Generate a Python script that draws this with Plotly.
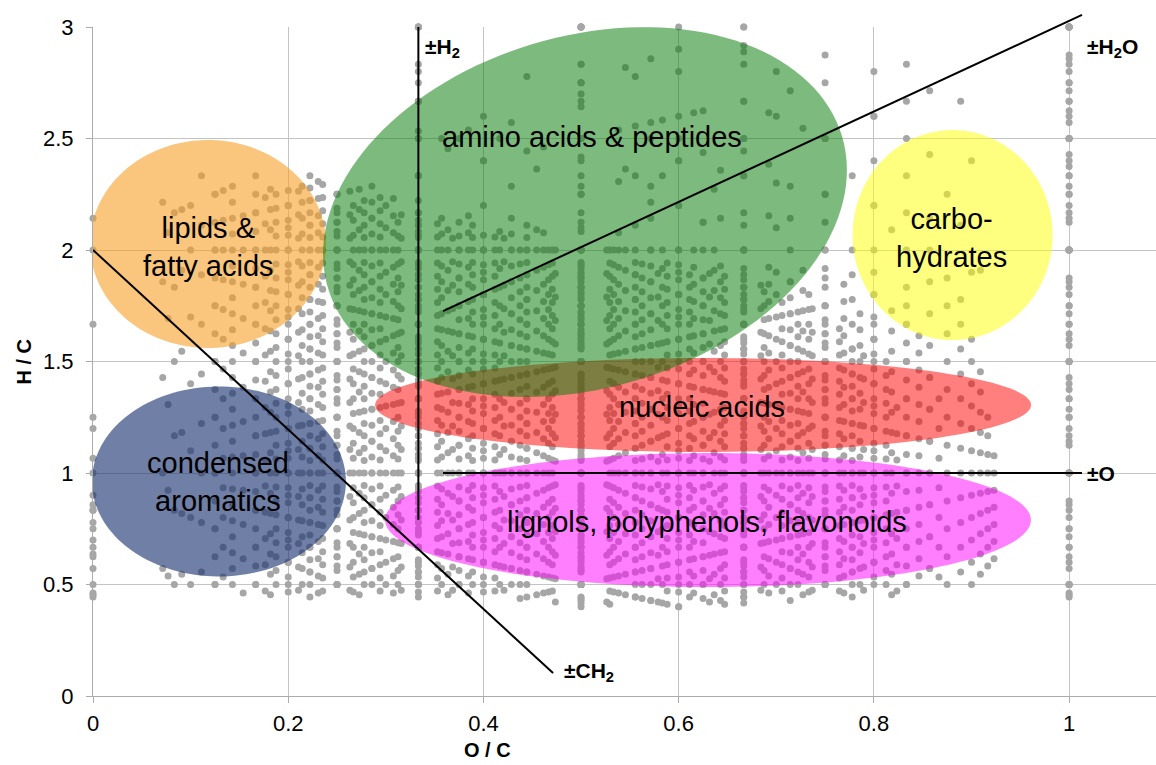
import numpy as np
import plotly.graph_objects as go

# Molecular formulas CcHhOo, grouped by carbon count c:
#   {oxygen count o: [hydrogen counts h]}
c02 = {1: [1, 2, 3, 4, 5, 6], 2: [1, 2, 3, 4, 5, 6]}
c03 = {0: [5], 1: [2, 3, 4, 5, 6, 7, 8, 9], 2: [2, 3, 4, 5, 6, 7, 8, 9], 3: [2, 3, 4, 5, 6, 7, 8, 9]}
c04 = {1: [2, 3, 4, 5, 6, 7, 8, 9], 2: [2, 3, 4, 5, 6, 7, 8, 9, 10, 11, 12],
       3: [2, 3, 4, 5, 6, 7, 8, 9, 10, 11], 4: [2, 3, 4, 5, 6, 7, 8, 9, 10, 11, 12]}
c05 = {1: [3, 4, 5, 6, 7, 8, 9, 10, 11], 2: [3, 4, 5, 6, 7, 8, 9, 10, 11, 12, 13],
       3: [2, 3, 4, 5, 6, 7, 8, 9, 10, 11, 12, 13, 14, 15], 4: [3, 4, 5, 6, 7, 8, 9, 10, 11, 12, 13, 14],
       5: [3, 4, 5, 6, 7, 8, 9, 10, 11, 12, 13, 14, 15]}
c06 = {0: [3, 4, 5, 12], 1: [3, 4, 5, 6, 7, 8, 9, 10, 11, 12, 13, 14],
       2: [3, 4, 5, 6, 7, 8, 9, 10, 11, 12, 13, 14, 15, 16, 17, 18],
       3: [3, 4, 5, 6, 7, 8, 9, 10, 11, 12, 13, 14, 15, 16, 17, 18],
       4: [3, 4, 5, 6, 7, 8, 9, 10, 11, 12, 13, 14, 15, 16, 17, 18],
       5: [3, 4, 5, 6, 7, 8, 9, 10, 11, 12, 13, 14, 15, 16, 17],
       6: [3, 4, 5, 6, 7, 8, 9, 10, 11, 12, 13, 14, 15, 16, 17, 18]}
c07 = {0: [4, 6, 7, 15], 1: [4, 5, 6, 7, 8, 9, 10, 11, 12, 13, 14, 15, 16],
       2: [4, 5, 6, 7, 8, 9, 10, 11, 12, 13, 14, 15, 16],
       3: [4, 5, 6, 7, 8, 9, 10, 11, 12, 13, 14, 15, 16, 18],
       4: [3, 4, 5, 6, 7, 8, 9, 10, 11, 12, 13, 14, 15, 16, 18, 20],
       5: [3, 4, 5, 6, 7, 8, 9, 10, 11, 12, 13, 14, 15, 16, 19],
       6: [4, 5, 6, 7, 8, 9, 10, 11, 12, 13, 14, 15, 17, 19],
       7: [4, 5, 6, 7, 8, 9, 10, 11, 12, 13, 14, 15, 16, 17, 18, 19, 20, 21]}
c08 = {0: [5, 6], 1: [4, 6, 8, 10, 12, 14, 16, 18],
       2: [4, 5, 6, 7, 8, 9, 10, 11, 12, 13, 14, 15, 16, 17, 18],
       3: [4, 5, 6, 7, 8, 9, 10, 11, 12, 13, 14, 15, 16, 17, 20],
       4: [4, 5, 6, 7, 8, 9, 10, 11, 12, 13, 14, 15, 16, 17, 18, 20, 22, 24],
       5: [4, 5, 6, 7, 8, 9, 10, 11, 12, 13, 14, 15, 16, 17, 21],
       6: [4, 5, 6, 7, 8, 9, 10, 11, 12, 13, 14, 15, 16, 17, 20, 23],
       7: [4, 5, 6, 7, 8, 9, 10, 11, 12, 13, 14, 15, 18],
       8: [4, 5, 6, 7, 8, 9, 10, 11, 12, 13, 14, 15, 16, 17, 18, 19, 20, 21, 22, 23, 24]}
c09 = {0: [4, 7], 1: [5, 7, 9, 11, 13, 15, 17, 19, 21],
       2: [4, 5, 6, 7, 8, 9, 10, 11, 12, 13, 14, 15, 16, 17, 18, 19, 20, 21],
       3: [4, 5, 6, 7, 8, 9, 10, 11, 12, 13, 14, 15, 16, 17, 18, 19, 20, 21, 24, 27],
       4: [4, 5, 6, 7, 8, 9, 10, 11, 12, 13, 14, 15, 16, 17, 18, 19, 22, 25],
       5: [4, 5, 6, 7, 8, 9, 10, 11, 12, 13, 14, 15, 16, 17, 18, 19, 21, 23, 25],
       6: [4, 5, 6, 7, 8, 9, 10, 11, 12, 13, 14, 15, 16, 17, 18, 19, 22, 26],
       7: [4, 5, 6, 7, 8, 9, 10, 11, 12, 13, 14, 15, 16, 17, 18, 21],
       8: [5, 6, 7, 8, 9, 10, 11, 12, 13, 14, 15, 16, 19, 24],
       9: [4]}
c10 = {0: [7, 9, 12], 1: [5, 8, 11, 14, 17, 20, 22],
       2: [5, 6, 7, 8, 9, 10, 11, 12, 13, 14, 15, 16, 17, 18, 19, 20, 21, 22],
       3: [5, 6, 7, 8, 9, 10, 11, 12, 13, 14, 15, 16, 17, 18, 19, 20, 21, 22],
       4: [5, 6, 7, 8, 9, 10, 11, 12, 13, 14, 15, 16, 17, 18, 19, 20, 24],
       5: [4, 5, 6, 7, 8, 9, 10, 11, 12, 13, 14, 15, 16, 17, 18, 19, 20, 21, 24, 27, 30],
       6: [4, 5, 6, 7, 8, 9, 10, 11, 12, 13, 14, 15, 16, 17, 18, 19, 20, 22, 25, 29],
       7: [5, 6, 7, 8, 9, 10, 11, 12, 13, 14, 15, 16, 17, 18, 19, 21, 23, 26, 28],
       8: [5, 6, 7, 8, 9, 10, 11, 12, 13, 14, 15, 16, 17, 18, 19, 22, 26],
       9: [5, 6, 7, 8, 9, 10, 11, 12, 13, 14, 15, 16, 19, 24]}
c11 = {0: [5, 7], 1: [6, 9, 13, 17, 21, 24],
       2: [5, 6, 7, 8, 9, 10, 11, 12, 13, 14, 15, 16, 17, 18, 19, 20, 21, 22, 23, 24, 25],
       3: [5, 6, 7, 8, 9, 10, 11, 12, 13, 14, 15, 16, 17, 18, 19, 20, 21, 22, 23, 24, 25],
       4: [5, 6, 7, 8, 9, 10, 11, 12, 13, 14, 15, 16, 17, 18, 19, 20, 21, 22, 23, 27],
       5: [5, 6, 7, 8, 9, 10, 11, 12, 13, 14, 15, 16, 17, 18, 19, 20, 21, 22, 23, 26],
       6: [5, 6, 7, 8, 9, 10, 11, 12, 13, 14, 15, 16, 17, 18, 19, 20, 21, 22, 26, 31],
       7: [5, 6, 7, 8, 9, 10, 11, 12, 13, 14, 15, 16, 17, 18, 19, 20, 21, 22, 25],
       8: [5, 6, 7, 8, 9, 10, 11, 12, 13, 14, 15, 16, 17, 18, 19, 20, 21, 28],
       9: [5, 6, 7, 8, 9, 10, 11, 12, 13, 14, 15, 16, 17, 18, 19, 23],
       10: [6, 7, 8, 9, 10, 11, 12, 13, 14, 15, 16, 21],
       11: [5]}
c12 = {0: [10, 15], 1: [6, 10, 14, 18, 22, 26],
       2: [6, 7, 8, 9, 10, 11, 12, 13, 14, 15, 16, 17, 18, 19, 20, 21, 22, 23, 24, 25, 26, 27],
       3: [6, 7, 8, 9, 10, 11, 12, 13, 14, 15, 16, 17, 18, 19, 20, 21, 22, 23, 24, 25, 26, 27],
       4: [6, 7, 8, 9, 10, 11, 12, 13, 14, 15, 16, 17, 18, 19, 20, 21, 22, 23, 24, 25, 26, 30, 33, 36],
       5: [6, 7, 8, 9, 10, 11, 12, 13, 14, 15, 16, 17, 18, 19, 20, 21, 22, 23, 24, 25, 30],
       6: [5, 6, 7, 8, 9, 10, 11, 12, 13, 14, 15, 16, 17, 18, 19, 20, 21, 22, 23, 24, 25, 29, 34],
       7: [5, 6, 7, 8, 9, 10, 11, 12, 13, 14, 15, 16, 17, 18, 19, 20, 21, 22, 23, 24, 28, 31],
       8: [5, 6, 7, 8, 9, 10, 11, 12, 13, 14, 15, 16, 17, 18, 19, 20, 21, 22, 23, 24, 30, 35],
       9: [6, 7, 8, 9, 10, 11, 12, 13, 14, 15, 16, 17, 18, 19, 20, 21, 22, 23, 27, 30],
       10: [6, 7, 8, 9, 10, 11, 12, 13, 14, 15, 16, 17, 18, 19, 20, 21],
       11: [7, 8, 9, 10, 11, 12, 13, 14, 15]}
c13 = {0: [6], 1: [7, 12, 17, 22, 27],
       2: [6, 8, 10, 12, 14, 16, 18, 20, 22, 24, 26, 28],
       3: [6, 7, 8, 9, 10, 11, 12, 13, 14, 15, 16, 17, 18, 19, 20, 21, 22, 23, 24, 25, 26, 27, 28, 29, 30],
       4: [6, 7, 8, 9, 10, 11, 12, 13, 14, 15, 16, 17, 18, 19, 20, 21, 22, 23, 24, 25, 26, 27, 28, 29],
       5: [6, 7, 8, 9, 10, 11, 12, 13, 14, 15, 16, 17, 18, 19, 20, 21, 22, 23, 24, 25, 26, 27, 28, 33],
       6: [6, 7, 8, 9, 10, 11, 12, 13, 14, 15, 16, 17, 18, 19, 20, 21, 22, 23, 24, 25, 26, 27, 32],
       7: [6, 7, 8, 9, 10, 11, 12, 13, 14, 15, 16, 17, 18, 19, 20, 21, 22, 23, 24, 25, 26, 27, 30, 33],
       8: [6, 7, 8, 9, 10, 11, 12, 13, 14, 15, 16, 17, 18, 19, 20, 21, 22, 23, 24, 25, 26, 34],
       9: [6, 7, 8, 9, 10, 11, 12, 13, 14, 15, 16, 17, 18, 19, 20, 21, 22, 23, 24, 25, 28, 31, 34],
       10: [6, 7, 8, 9, 10, 11, 12, 13, 14, 15, 16, 17, 18, 19, 20, 21, 22, 23, 24],
       11: [7, 8, 9, 10, 11, 12, 13, 14, 15, 16, 17, 18, 19, 20, 21],
       12: [8, 9, 10, 11, 12, 13, 14],
       13: [6]}
c14 = {1: [8, 14, 20, 26, 31],
       2: [7, 9, 11, 13, 15, 17, 19, 21, 23, 25, 27, 29, 31],
       3: [7, 8, 9, 10, 11, 12, 13, 14, 15, 16, 17, 18, 19, 20, 21, 22, 23, 24, 25, 26, 27, 28, 29, 30, 31, 32],
       4: [7, 8, 9, 10, 11, 12, 13, 14, 15, 16, 17, 18, 19, 20, 21, 22, 23, 24, 25, 26, 27, 28, 29, 30, 31],
       5: [7, 8, 9, 10, 11, 12, 13, 14, 15, 16, 17, 18, 19, 20, 21, 22, 23, 24, 25, 26, 27, 28, 29, 30, 35],
       6: [7, 8, 9, 10, 11, 12, 13, 14, 15, 16, 17, 18, 19, 20, 21, 22, 23, 24, 25, 26, 27, 28, 29],
       7: [6, 7, 8, 9, 10, 11, 12, 13, 14, 15, 16, 17, 18, 19, 20, 21, 22, 23, 24, 25, 26, 27, 28, 32, 37],
       8: [6, 7, 8, 9, 10, 11, 12, 13, 14, 15, 16, 17, 18, 19, 20, 21, 22, 23, 24, 25, 26, 27, 28, 31, 35],
       9: [6, 7, 8, 9, 10, 11, 12, 13, 14, 15, 16, 17, 18, 19, 20, 21, 22, 23, 24, 25, 26, 27, 30, 33],
       10: [7, 8, 9, 10, 11, 12, 13, 14, 15, 16, 17, 18, 19, 20, 21, 22, 23, 24, 25, 26],
       11: [7, 8, 9, 10, 11, 12, 13, 14, 15, 16, 17, 18, 19, 20, 21, 22, 23, 24],
       12: [8, 10, 12, 14, 16, 18, 20]}
c15 = {0: [16],
       2: [8, 10, 12, 14, 16, 18, 20, 22, 24, 26, 28, 30, 32, 34],
       3: [7, 8, 9, 10, 11, 12, 13, 14, 15, 16, 17, 18, 19, 20, 21, 22, 23, 24, 25, 26, 27, 28, 29, 30, 31, 32, 33, 34],
       4: [7, 8, 9, 10, 11, 12, 13, 14, 15, 16, 17, 18, 19, 20, 21, 22, 23, 24, 25, 26, 27, 28, 29, 30, 31, 32, 33],
       5: [7, 8, 9, 10, 11, 12, 13, 14, 15, 16, 17, 18, 19, 20, 21, 22, 23, 24, 25, 26, 27, 28, 29, 30, 31, 32, 38, 42],
       6: [7, 8, 9, 10, 11, 12, 13, 14, 15, 16, 17, 18, 19, 20, 21, 22, 23, 24, 25, 26, 27, 28, 29, 30, 31],
       7: [7, 8, 9, 10, 11, 12, 13, 14, 15, 16, 17, 18, 19, 20, 21, 22, 23, 24, 25, 26, 27, 28, 29, 30],
       8: [7, 8, 9, 10, 11, 12, 13, 14, 15, 16, 17, 18, 19, 20, 21, 22, 23, 24, 25, 26, 27, 28, 29, 30],
       9: [7, 8, 9, 10, 11, 12, 13, 14, 15, 16, 17, 18, 19, 20, 21, 22, 23, 24, 25, 26, 27, 28, 29, 36],
       10: [7, 8, 9, 10, 11, 12, 13, 14, 15, 16, 17, 18, 19, 20, 21, 22, 23, 24, 25, 26, 27, 28],
       11: [7, 8, 9, 10, 11, 12, 13, 14, 15, 16, 17, 18, 19, 20, 21, 22, 23, 24, 25, 26, 27],
       12: [8, 9, 10, 11, 12, 13, 14, 15, 16, 17, 18, 19, 20, 21, 22, 23, 24, 25],
       13: [8, 10, 12, 14, 16, 18, 20]}
c16 = {2: [8, 10, 12, 14, 16, 18, 20, 22, 24, 26, 28, 30, 32, 34, 36],
       3: [8, 9, 10, 11, 12, 13, 14, 15, 16, 17, 18, 19, 20, 21, 22, 23, 24, 25, 26, 27, 28, 29, 30, 31, 32, 33, 34, 35, 36],
       4: [8, 9, 10, 11, 12, 13, 14, 15, 16, 17, 18, 19, 20, 21, 22, 23, 24, 25, 26, 27, 28, 29, 30, 31, 32, 33, 34, 35],
       5: [8, 9, 10, 11, 12, 13, 14, 15, 16, 17, 18, 19, 20, 21, 22, 23, 24, 25, 26, 27, 28, 29, 30, 31, 32, 33, 34],
       6: [8, 9, 10, 11, 12, 13, 14, 15, 16, 17, 18, 19, 20, 21, 22, 23, 24, 25, 26, 27, 28, 29, 30, 31, 32, 33],
       7: [7, 8, 9, 10, 11, 12, 13, 14, 15, 16, 17, 18, 19, 20, 21, 22, 23, 24, 25, 26, 27, 28, 29, 30, 31, 32],
       8: [7, 8, 9, 10, 11, 12, 13, 14, 15, 16, 17, 18, 19, 20, 21, 22, 23, 24, 25, 26, 27, 28, 29, 30, 31, 32, 36, 40, 44],
       9: [7, 8, 9, 10, 11, 12, 13, 14, 15, 16, 17, 18, 19, 20, 21, 22, 23, 24, 25, 26, 27, 28, 29, 30, 31],
       10: [7, 8, 9, 10, 11, 12, 13, 14, 15, 16, 17, 18, 19, 20, 21, 22, 23, 24, 25, 26, 27, 28, 29, 30, 34, 39],
       11: [8, 9, 10, 11, 12, 13, 14, 15, 16, 17, 18, 19, 20, 21, 22, 23, 24, 25, 26, 27, 28, 29],
       12: [8, 9, 10, 11, 12, 13, 14, 15, 16, 17, 18, 19, 20, 21, 22, 23, 24, 25, 26, 27],
       13: [8, 9, 10, 11, 12, 13, 14, 15, 16, 17, 18, 19, 20, 21, 22, 23, 24]}
c17 = {3: [8, 10, 12, 14, 16, 18, 20, 22, 24, 26, 28, 30, 32, 34, 36, 38],
       4: [8, 9, 10, 11, 12, 13, 14, 15, 16, 17, 18, 19, 20, 21, 22, 23, 24, 25, 26, 27, 28, 29, 30, 31, 32, 33, 34, 35, 36, 37, 38, 39],
       5: [8, 9, 10, 11, 12, 13, 14, 15, 16, 17, 18, 19, 20, 21, 22, 23, 24, 25, 26, 27, 28, 29, 30, 31, 32, 33, 34, 35, 36, 37, 38],
       6: [8, 9, 10, 11, 12, 13, 14, 15, 16, 17, 18, 19, 20, 21, 22, 23, 24, 25, 26, 27, 28, 29, 30, 31, 32, 33, 34, 35, 36],
       7: [8, 9, 10, 11, 12, 13, 14, 15, 16, 17, 18, 19, 20, 21, 22, 23, 24, 25, 26, 27, 28, 29, 30, 31, 32, 33, 34, 35],
       8: [8, 9, 10, 11, 12, 13, 14, 15, 16, 17, 18, 19, 20, 21, 22, 23, 24, 25, 26, 27, 28, 29, 30, 31, 32, 33, 34],
       9: [7, 8, 9, 10, 11, 12, 13, 14, 15, 16, 17, 18, 19, 20, 21, 22, 23, 24, 25, 26, 27, 28, 29, 30, 31, 32, 33, 34],
       10: [7, 8, 9, 10, 11, 12, 13, 14, 15, 16, 17, 18, 19, 20, 21, 22, 23, 24, 25, 26, 27, 28, 29, 30, 31, 32, 33],
       11: [7, 8, 9, 10, 11, 12, 13, 14, 15, 16, 17, 18, 19, 20, 21, 22, 23, 24, 25, 26, 27, 28, 29, 30, 31, 32],
       12: [8, 9, 10, 11, 12, 13, 14, 15, 16, 17, 18, 19, 20, 21, 22, 23, 24, 25, 26, 27, 28, 29, 30],
       13: [8, 9, 10, 11, 12, 13, 14, 15, 16, 17, 18, 19, 20, 21, 22, 23, 24, 25, 26, 27, 28],
       14: [8, 10, 12, 14, 16, 18, 20, 22]}
c18 = {4: [9, 10, 11, 12, 13, 14, 15, 16, 17, 18, 19, 20, 21, 22, 23, 24, 25, 26, 27, 28, 29, 30, 31, 32, 33, 34, 35, 36, 37, 38, 39, 40, 41],
       5: [9, 10, 11, 12, 13, 14, 15, 16, 17, 18, 19, 20, 21, 22, 23, 24, 25, 26, 27, 28, 29, 30, 31, 32, 33, 34, 35, 36, 37, 38, 39, 40],
       6: [9, 10, 11, 12, 13, 14, 15, 16, 17, 18, 19, 20, 21, 22, 23, 24, 25, 26, 27, 28, 29, 30, 31, 32, 33, 34, 35, 36, 37, 38, 39],
       7: [9, 10, 11, 12, 13, 14, 15, 16, 17, 18, 19, 20, 21, 22, 23, 24, 25, 26, 27, 28, 29, 30, 31, 32, 33, 34, 35, 36, 37, 38],
       8: [9, 10, 11, 12, 13, 14, 15, 16, 17, 18, 19, 20, 21, 22, 23, 24, 25, 26, 27, 28, 29, 30, 31, 32, 33, 34, 35, 36, 37],
       9: [8, 9, 10, 11, 12, 13, 14, 15, 16, 17, 18, 19, 20, 21, 22, 23, 24, 25, 26, 27, 28, 29, 30, 31, 32, 33, 34, 35, 36],
       10: [8, 9, 10, 11, 12, 13, 14, 15, 16, 17, 18, 19, 20, 21, 22, 23, 24, 25, 26, 27, 28, 29, 30, 31, 32, 33, 34, 35],
       11: [8, 9, 10, 11, 12, 13, 14, 15, 16, 17, 18, 19, 20, 21, 22, 23, 24, 25, 26, 27, 28, 29, 30, 31, 32, 33, 34],
       12: [8, 9, 10, 11, 12, 13, 14, 15, 16, 17, 18, 19, 20, 21, 22, 23, 24, 25, 26, 27, 28, 29, 30, 31, 32, 33],
       13: [9, 10, 11, 12, 13, 14, 15, 16, 17, 18, 19, 20, 21, 22, 23, 24, 25, 26, 27, 28, 29, 30, 31],
       14: [9, 10, 11, 12, 13, 14, 15, 16, 17, 18, 19, 20, 21, 22, 23, 24, 25, 26, 27, 28]}
c19 = {4: [9, 11, 13, 15, 17, 19, 21, 23, 25, 27, 29, 31, 33, 35, 37, 39, 41, 43],
       5: [9, 11, 13, 15, 17, 19, 21, 23, 25, 27, 29, 31, 33, 35, 37, 39, 41, 43],
       6: [9, 11, 13, 15, 17, 19, 21, 23, 25, 27, 29, 31, 33, 35, 37, 39, 41],
       7: [9, 11, 13, 15, 17, 19, 21, 23, 25, 27, 29, 31, 33, 35, 37, 39],
       8: [9, 11, 13, 15, 17, 19, 21, 23, 25, 27, 29, 31, 33, 35, 37, 39],
       9: [8, 10, 12, 14, 16, 18, 20, 22, 24, 26, 28, 30, 32, 34, 36, 38],
       10: [8, 10, 12, 14, 16, 18, 20, 22, 24, 26, 28, 30, 32, 34, 36, 38],
       11: [8, 10, 12, 14, 16, 18, 20, 22, 24, 26, 28, 30, 32, 34, 36],
       12: [8, 10, 12, 14, 16, 18, 20, 22, 24, 26, 28, 30, 32, 34, 36],
       13: [9, 11, 13, 15, 17, 19, 21, 23, 25, 27, 29, 31, 33, 35],
       14: [9, 11, 13, 15, 17, 19, 21, 23, 25, 27, 29, 31, 33],
       15: [9, 11, 13, 15, 17, 19, 21, 23, 25, 27, 29]}

formula_tables = {2: c02, 3: c03, 4: c04, 5: c05, 6: c06, 7: c07, 8: c08, 9: c09, 10: c10,
                  11: c11, 12: c12, 13: c13, 14: c14, 15: c15, 16: c16, 17: c17, 18: c18, 19: c19}

# Elemental ratios for the Van Krevelen plot
oc_ratio, hc_ratio = [], []
for n_c, table in formula_tables.items():
    for n_o, h_counts in table.items():
        for n_h in h_counts:
            oc_ratio.append(n_o / n_c)
            hc_ratio.append(n_h / n_c)

# Compound-class labels
class_labels = ["amino acids &amp; peptides", "lipids &amp;<br>fatty acids", "carbo-<br>hydrates",
                "condensed<br>aromatics", "nucleic acids", "lignols, polyphenols, flavonoids"]

# ---- figure geometry ----
W, H = 1156, 765
M_L, M_R, M_T, M_B = 93, 0, 27, 69
X_RANGE = [0, 1.089]
Y_RANGE = [0, 3]
SX = (W - M_L - M_R) / (X_RANGE[1] - X_RANGE[0])   # px per O/C unit
SY = (H - M_T - M_B) / (Y_RANGE[1] - Y_RANGE[0])   # px per H/C unit


def ellipse_path(cx, cy, rx_px, ry_px, tilt_deg=0.0, n=140):
    t = np.linspace(0, 2 * np.pi, n)
    ex, ey = rx_px * np.cos(t), ry_px * np.sin(t)
    a = np.radians(tilt_deg)
    xr = ex * np.cos(a) - ey * np.sin(a)
    yr = ex * np.sin(a) + ey * np.cos(a)
    xs, ys = cx + xr / SX, cy + yr / SY
    pts = " L ".join(f"{x:.5f},{y:.5f}" for x, y in zip(xs, ys))
    return f"M {pts} Z"


# region ellipses: (centre O/C, centre H/C, x radius px, y radius px, tilt, fill)
regions = [
    (0.1178, 2.027, 118, 104, 0, "rgba(247,160,40,0.6)"),     # lipids
    (0.129, 0.962, 127, 95, 0, "rgba(25,48,110,0.62)"),        # condensed aromatics
    (0.8806, 2.067, 100, 105, 0, "rgba(255,255,0,0.5)"),       # carbohydrates
    (0.625, 1.305, 328, 47, 0, "rgba(255,0,0,0.5)"),           # nucleic acids
    (0.504, 2.170, 268, 176, 16.3, "rgba(10,125,10,0.53)"),    # amino acids
    (0.630, 0.789, 323, 67, 0, "rgba(255,0,255,0.5)"),         # lignols
]

fig = go.Figure()
fig.add_trace(go.Scatter(
    x=oc_ratio, y=hc_ratio, mode="markers",
    marker=dict(size=7, color="#A6A6A6", line=dict(width=0)),
    cliponaxis=False, hoverinfo="skip", showlegend=False,
))

shapes = []
for cx, cy, rx, ry, tilt, fill in regions:
    shapes.append(dict(type="path", path=ellipse_path(cx, cy, rx, ry, tilt),
                       xref="x", yref="y", fillcolor=fill, line=dict(width=0), layer="above"))

line_style = dict(color="black", width=2)
# reaction lines: -CH2, -H2, -O (data refs), -H2O (paper y so it can pass the top edge)
shapes.append(dict(type="line", xref="x", yref="y", x0=0, y0=2.0, x1=0.4713, y1=0.103,
                   line=line_style, layer="above"))
shapes.append(dict(type="line", xref="x", yref="y", x0=1 / 3, y0=0.79, x1=1 / 3, y1=3.0,
                   line=line_style, layer="above"))
shapes.append(dict(type="line", xref="x", yref="y", x0=0.3586, y0=1.0, x1=1.0132, y1=1.0,
                   line=line_style, layer="above"))
shapes.append(dict(type="line", xref="x", yref="paper", x0=0.3586, y0=1.726 / Y_RANGE[1],
                   x1=1.0132, y1=3.054 / Y_RANGE[1], line=line_style, layer="above"))

FONT = "Liberation Sans, Arial, sans-serif"
label_font = dict(family=FONT, size=29, color="black")
label_pos = [(0.511, 2.507), (0.118, 2.013), (0.880, 2.054), (0.128, 0.960), (0.624, 1.296), (0.629, 0.780)]
annotations = []
for text, (lx, ly) in zip(class_labels, label_pos):
    annotations.append(dict(x=lx, y=ly, xref="x", yref="y", text=text, showarrow=False,
                            font=label_font, xanchor="center", yanchor="middle", align="center"))

rxn_font = dict(family=FONT, size=21, color="black", weight="bold")
for text, (lx, ly) in zip(["±H<sub>2</sub>", "±H<sub>2</sub>O", "±O", "±CH<sub>2</sub>"],
                          [(0.338, 2.905), (1.016, 2.905), (1.016, 1.0), (0.4805, 0.108)]):
    annotations.append(dict(x=lx, y=ly, xref="x", yref="y", text=text, showarrow=False,
                            font=rxn_font, xanchor="left", yanchor="middle"))

title_font = dict(family=FONT, size=20, color="black", weight="bold")
annotations.append(dict(x=0, y=0.5, xref="paper", yref="paper", text="H / C", textangle=-90,
                        showarrow=False, font=title_font, xanchor="center", yanchor="middle", xshift=-70))
annotations.append(dict(x=0.404, y=0, xref="x", yref="paper", text="O / C",
                        showarrow=False, font=title_font, xanchor="center", yanchor="middle", yshift=-54))

axis_common = dict(
    showgrid=True, gridcolor="#C4C4C4", gridwidth=1,
    showline=True, linecolor="#ABABAB", linewidth=1,
    ticks="outside", ticklen=6, tickcolor="#ABABAB", tickwidth=1,
    zeroline=False,
    tickfont=dict(family=FONT, size=22, color="black"),
)

fig.update_layout(
    width=W, height=H,
    margin=dict(l=M_L, r=M_R, t=M_T, b=M_B, autoexpand=False),
    paper_bgcolor="white", plot_bgcolor="white",
    showlegend=False,
    shapes=shapes, annotations=annotations,
    xaxis=dict(range=X_RANGE, dtick=0.2, tick0=0, ticklabelstandoff=2, **axis_common),
    yaxis=dict(range=Y_RANGE, dtick=0.5, tick0=0, ticklabelstandoff=8, **axis_common),
)

fig.write_html("out.html")
